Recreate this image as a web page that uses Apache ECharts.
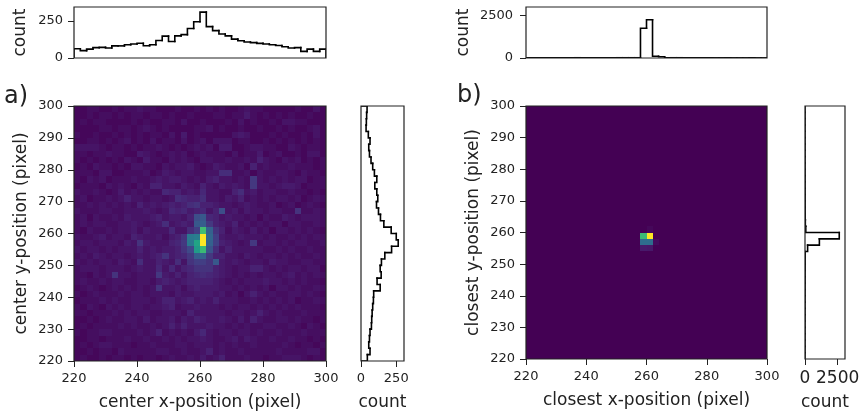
<!DOCTYPE html>
<html>
<head>
<meta charset="utf-8">
<style>html,body{margin:0;padding:0;background:#fff}#main{width:862px;height:413px}</style>
<script src="https://cdn.jsdelivr.net/npm/echarts@6/dist/echarts.min.js"></script>
</head>
<body>
<div id="main"></div>
<script>
var binEdges = [220,222,224,226,228,230,232,234,236,238,240,242,244,246,248,250,252,254,256,258,
                260,262,264,266,268,270,272,274,276,278,280,282,284,286,288,290,292,294,296,298,300];

// top / side histograms, panel a. side runs from y=220 up to y=300
var topCountA = [63,50,60,70,72,68,82,82,90,95,100,83,90,118,148,112,150,158,200,245,
                 310,212,185,162,150,128,117,108,104,99,95,90,85,76,68,70,45,60,45,60];
var sideCountA = [45,64,55,60,64,74,76,79,83,88,90,136,114,143,136,145,169,217,264,250,
                  214,162,138,124,110,119,112,98,112,95,83,71,60,55,64,52,36,38,40,43];

// panel b
var topCountB = [12,10,12,10,14,12,12,14,14,12,14,12,14,12,14,14,14,14,14,1750,
                 2250,100,75,14,14,14,12,12,10,12,10,10,10,8,8,8,8,6,6,6];
var sideCountB = [0,0,0,0,0,0,0,0,0,2,4,6,8,8,10,12,14,200,1100,2620,
                  60,24,14,12,10,8,8,6,6,4,4,2,2,2,0,0,0,0,0,0];

// 2d counts panel a, first row is y=298-300, first column x=220-222
var countsA = [
[1,1,2,2,1,1,2,1,2,2,3,2,2,1,1,1,2,1,1,2,1,2,1,2,1,1,2,3,2,2,1,1,1,1,1,2,1,1,3,1],
[1,1,2,1,2,2,1,2,1,2,2,1,2,2,1,2,1,1,2,1,1,1,2,2,1,2,2,4,2,1,2,1,2,1,2,1,1,2,1,1],
[1,2,1,2,2,1,1,1,1,2,1,2,1,1,2,2,1,3,1,1,2,1,1,1,2,1,3,1,2,1,1,2,1,3,3,2,2,1,1,1],
[1,1,1,1,2,2,1,2,2,1,2,3,2,1,2,1,1,1,1,2,2,3,1,2,1,1,2,1,1,2,1,1,2,1,2,1,1,2,3,1],
[2,1,1,2,1,1,2,1,2,1,2,1,2,2,1,3,1,4,1,2,1,1,1,1,1,3,4,3,1,1,1,2,1,2,1,1,2,1,3,1],
[1,1,2,2,1,2,1,2,3,1,2,1,3,1,2,2,1,3,1,2,3,1,3,3,3,1,2,2,1,1,2,1,2,1,2,1,2,1,2,1],
[3,3,3,3,2,1,2,2,1,2,1,2,2,3,2,1,2,1,2,3,2,3,1,4,4,1,1,2,3,3,2,2,1,1,3,2,1,2,2,1],
[2,2,1,2,2,3,2,2,1,1,4,3,2,1,2,3,2,3,1,2,3,2,2,2,1,3,1,2,2,4,1,2,3,1,1,2,1,3,3,1],
[2,1,2,1,2,1,2,1,3,2,1,4,2,2,1,3,2,3,2,1,3,3,2,2,3,2,2,3,2,5,3,2,1,3,2,3,1,2,1,2],
[1,2,1,3,2,2,1,2,1,3,3,2,2,1,3,2,3,3,4,2,1,2,4,3,2,2,3,1,5,2,3,2,2,2,3,2,2,2,1,2],
[2,2,2,1,3,3,1,1,2,2,2,3,1,2,4,3,2,3,3,2,2,3,3,7,7,2,2,3,1,3,2,2,3,3,2,1,3,2,2,1],
[2,1,3,2,3,1,2,2,2,3,2,2,3,4,3,4,4,3,2,3,2,4,5,3,3,2,3,2,9,3,2,3,2,3,2,3,3,1,2,2],
[1,2,2,2,1,3,2,3,2,1,3,2,5,5,3,3,2,4,3,2,5,3,2,4,3,4,3,2,9,3,3,2,3,4,4,3,1,2,2,2],
[3,2,2,3,2,1,2,4,2,3,2,3,2,2,6,5,5,3,4,3,6,3,3,2,2,5,7,3,4,2,3,3,2,2,3,2,2,1,2,1],
[2,3,1,2,2,3,2,3,5,3,3,2,3,3,2,3,7,6,5,5,7,3,3,2,4,3,5,2,3,2,3,2,3,3,2,3,1,2,3,2],
[2,2,3,2,3,2,3,2,3,2,5,3,4,3,4,5,4,5,7,8,5,5,4,3,3,2,3,4,3,2,2,3,1,2,3,1,2,3,2,1],
[3,2,2,2,3,3,2,2,3,3,3,4,3,2,3,6,5,6,4,5,6,3,5,13,3,4,2,4,3,3,2,3,3,2,2,8,2,2,3,2],
[2,3,1,3,2,2,3,2,4,3,3,3,4,5,3,4,4,3,5,13,15,6,5,3,4,3,3,2,3,1,3,2,2,4,3,2,3,3,3,2],
[2,3,2,3,3,2,2,3,3,4,3,2,3,4,7,3,4,5,4,15,16,9,5,4,3,5,2,3,2,3,2,3,3,1,3,3,2,2,3,2],
[2,1,3,2,2,3,2,3,3,4,2,4,3,3,3,6,3,3,7,10,38,17,8,5,2,4,3,2,4,2,3,1,3,3,2,3,2,3,2,1],
[3,2,2,3,4,2,3,3,2,5,4,3,3,4,2,4,5,8,22,23,55,18,10,4,3,3,4,3,3,3,2,3,2,2,3,2,3,2,3,2],
[2,3,3,2,3,3,3,2,4,3,8,4,3,3,3,5,6,9,22,32,55,17,10,5,4,3,2,3,9,2,3,3,2,3,2,3,3,2,2,3],
[3,2,3,3,2,3,2,3,3,3,5,3,4,3,4,4,5,8,12,30,37,14,7,3,5,3,3,3,3,3,2,2,3,2,3,2,2,3,2,2],
[2,3,2,4,3,2,3,3,2,3,4,3,4,5,8,4,5,6,9,16,17,9,5,5,3,3,2,4,3,2,3,3,2,3,2,3,2,2,3,2],
[3,2,3,2,3,3,2,4,3,2,7,3,3,5,4,3,7,3,8,10,10,8,15,4,3,4,3,2,3,3,2,4,3,3,2,2,3,3,2,2],
[2,3,3,3,2,3,3,3,2,3,4,3,3,6,3,6,3,5,6,8,8,8,5,4,3,2,3,3,5,5,3,2,3,2,3,3,2,3,3,1],
[2,2,1,3,2,3,8,3,3,2,3,3,3,9,4,3,5,3,5,6,7,6,5,4,3,2,3,2,3,2,3,3,2,3,4,2,3,2,3,2],
[2,3,2,2,3,2,3,3,2,2,3,3,2,4,5,4,3,4,5,5,5,5,4,3,2,3,2,3,3,3,4,3,3,2,3,2,3,2,2,1],
[1,2,3,2,1,2,3,2,3,2,3,2,3,8,3,3,4,2,4,5,4,4,4,3,3,2,3,2,3,2,3,1,3,3,2,3,2,2,3,2],
[2,1,2,3,2,2,2,3,2,3,3,2,3,3,3,2,4,3,3,4,4,4,3,4,2,3,1,3,5,3,2,3,2,2,3,3,2,3,2,1],
[1,2,2,2,3,2,3,2,2,3,3,3,2,3,5,5,3,4,5,3,4,3,5,3,3,3,2,2,3,2,3,2,3,2,3,1,2,2,3,2],
[2,1,3,2,1,3,2,3,2,3,3,2,3,3,4,5,2,3,3,4,3,3,3,2,3,2,3,3,2,3,2,3,2,3,2,3,2,2,2,1],
[2,2,1,2,2,2,3,2,3,2,3,3,2,2,3,3,3,2,5,3,3,3,3,3,2,3,3,2,3,5,3,2,3,2,2,2,3,2,2,2],
[1,1,2,1,2,3,2,2,3,3,2,4,2,3,3,4,2,4,3,5,4,3,3,4,3,2,4,2,5,3,2,2,3,3,2,3,2,2,1,2],
[1,2,1,2,2,2,2,3,2,3,2,2,3,2,3,5,3,5,3,3,3,4,3,3,2,3,2,3,2,2,3,3,2,2,3,2,1,3,2,1],
[2,1,2,2,3,3,2,2,2,2,3,2,3,5,2,3,2,3,2,4,6,3,2,3,3,2,3,3,2,3,2,2,3,2,2,2,3,2,2,2],
[1,1,2,2,1,2,2,2,3,2,2,3,2,2,3,2,3,2,3,3,4,3,2,2,3,4,2,4,3,2,2,3,2,2,3,2,2,1,2,1],
[1,2,1,2,3,3,2,2,2,1,2,2,3,2,2,2,3,3,2,3,3,3,2,3,2,3,2,2,3,2,2,2,2,3,2,1,2,2,1,2],
[1,1,2,1,2,2,1,3,2,2,2,2,2,3,3,2,2,3,2,2,3,5,2,3,2,2,3,2,2,2,2,2,3,2,2,2,2,3,3,1],
[1,2,1,1,2,1,2,2,1,2,1,2,2,1,2,3,2,2,3,2,4,2,3,5,2,2,2,3,2,2,1,2,2,3,3,3,2,1,2,1]
];

// 2d counts panel b: only these cells stand out, [column, row from bottom, count]
var cellsB = [[19,19,1050],[20,19,1550],[19,18,550],[20,18,550],[19,17,110],[20,17,100],[21,18,40],[20,20,30]];

var heatXTicks = [220,240,260,280,300];
var heatYTicks = [220,230,240,250,260,270,280,290,300];
var histTicksA = [0,250];
var histTicksB = [0,2500];
var viridis = ['#440154','#482475','#414487','#355f8d','#2a788e','#21918c','#22a884','#44bf70','#7ad151','#bddf26','#fde725'];

var font = 'DejaVu Sans';
var inkColor = '#222';

// one item per bin: [edge0, edge1, previous count, count]
function histData(edges, counts) {
    var rows = counts.map(function (c, i) {
        return [edges[i], edges[i + 1], i ? counts[i - 1] : 0, c];
    });
    var last = edges[edges.length - 1];
    rows.push([last, last, counts[counts.length - 1], 0]);
    return rows;
}

function histSeries(idx, edges, counts, flip) {
    return {
        type: 'custom', xAxisIndex: idx, yAxisIndex: idx,
        data: histData(edges, counts), silent: true, clip: true, z: 3,
        encode: flip ? {x: [2, 3], y: [0, 1]} : {x: [0, 1], y: [2, 3]},
        renderItem: function (params, api) {
            var e0 = api.value(0), e1 = api.value(1), c0 = api.value(2), c1 = api.value(3);
            var pts = flip
                ? [api.coord([c0, e0]), api.coord([c1, e0]), api.coord([c1, e1])]
                : [api.coord([e0, c0]), api.coord([e0, c1]), api.coord([e1, c1])];
            return {
                type: 'polyline', shape: {points: pts},
                style: {stroke: '#000', fill: null, lineWidth: 1.6, lineJoin: 'miter', lineCap: 'square'}
            };
        }
    };
}

function heatSeries(idx, cells) {
    return {
        type: 'custom', xAxisIndex: idx, yAxisIndex: idx, data: cells, silent: true, clip: true, z: 2,
        encode: {x: [0, 1], y: [2, 3]},
        renderItem: function (params, api) {
            var p0 = api.coord([api.value(0), api.value(3)]);
            var p1 = api.coord([api.value(1), api.value(2)]);
            // whole pixels, otherwise the cell edges show as a faint grid
            var x0 = Math.round(p0[0]), y0 = Math.round(p0[1]);
            return {
                type: 'rect',
                shape: {x: x0, y: y0, width: Math.round(p1[0]) - x0, height: Math.round(p1[1]) - y0},
                style: {fill: api.visual('color')}
            };
        }
    };
}

function valueAxis(gridIdx, min, max, ticks, opts) {
    opts = opts || {};
    var ax = {
        type: 'value', gridIndex: gridIdx, min: min, max: max, splitLine: {show: false},
        axisLine: {show: false},
        axisTick: {show: !!ticks, customValues: ticks, length: 6, lineStyle: {color: inkColor, width: 1}},
        axisLabel: {
            show: !!ticks, customValues: ticks, fontFamily: font, fontSize: opts.size || 13, color: inkColor,
            margin: opts.margin || 11, formatter: function (v) { return String(v); }
        }
    };
    if (opts.name) {
        ax.name = opts.name;
        ax.nameLocation = 'middle';
        ax.nameGap = opts.gap;
        ax.nameTextStyle = {fontFamily: font, fontSize: 17, color: inkColor};
    }
    return ax;
}

function frame(l, t, w, h) {
    return {
        left: l, top: t, width: w, height: h, show: true, outerBoundsMode: 'none',
        borderColor: inkColor, borderWidth: 1.2, backgroundColor: 'transparent', z: 10
    };
}

var matA = [];
countsA.forEach(function (row, r) {
    row.forEach(function (v, c) {
        matA.push([binEdges[c], binEdges[c + 1], binEdges[39 - r], binEdges[40 - r], v]);
    });
});

// zero cells for panel b, then the ones that were read
var lookB = {};
cellsB.forEach(function (d) { lookB[d[0] + '_' + d[1]] = d[2]; });
var matB = [];
for (var c = 0; c < 40; c++) {
    for (var r = 0; r < 40; r++) {
        matB.push([binEdges[c], binEdges[c + 1], binEdges[r], binEdges[r + 1], lookB[c + '_' + r] || 0]);
    }
}

var chart = echarts.init(document.getElementById('main'));
chart.setOption({
    animation: false,
    backgroundColor: '#fff',
    grid: [
        frame(74, 106, 252, 255),
        frame(74, 7, 252, 51),
        frame(361, 106, 43, 255),
        frame(526, 106, 241, 253),
        frame(526, 7, 241, 51),
        frame(805, 106, 40, 253)
    ],
    xAxis: [
        valueAxis(0, 220, 300, heatXTicks, {name: 'center x-position (pixel)', gap: 33}),
        valueAxis(1, 220, 300, null),
        valueAxis(2, 0, 305, histTicksA, {name: 'count', gap: 33}),
        valueAxis(3, 220, 300, heatXTicks, {name: 'closest x-position (pixel)', gap: 33}),
        valueAxis(4, 220, 300, null),
        valueAxis(5, 0, 3060, histTicksB, {name: 'count', gap: 35, size: 17})
    ],
    yAxis: [
        valueAxis(0, 220, 300, heatYTicks, {name: 'center y-position (pixel)', gap: 44}),
        valueAxis(1, 0, 345, histTicksA, {name: 'count', gap: 45}),
        valueAxis(2, 220, 300, null),
        valueAxis(3, 220, 300, heatYTicks, {name: 'closest y-position (pixel)', gap: 44}),
        valueAxis(4, 0, 3000, histTicksB, {name: 'count', gap: 54, margin: 13}),
        valueAxis(5, 220, 300, null)
    ],
    visualMap: [
        {show: false, seriesIndex: 0, min: 0, max: 55, dimension: 4, inRange: {color: viridis}},
        {show: false, seriesIndex: 1, min: 0, max: 1550, dimension: 4, inRange: {color: viridis}}
    ],
    series: [
        heatSeries(0, matA),
        heatSeries(3, matB),
        histSeries(1, binEdges, topCountA, false),
        histSeries(2, binEdges, sideCountA, true),
        histSeries(4, binEdges, topCountB, false),
        histSeries(5, binEdges, sideCountB, true)
    ],
    graphic: [
        {type: 'text', left: 4, top: 85, style: {text: 'a)', font: '24px "DejaVu Sans"', fill: inkColor}},
        {type: 'text', left: 457, top: 84, style: {text: 'b)', font: '24px "DejaVu Sans"', fill: inkColor}}
    ]
});
</script>
</body>
</html>
